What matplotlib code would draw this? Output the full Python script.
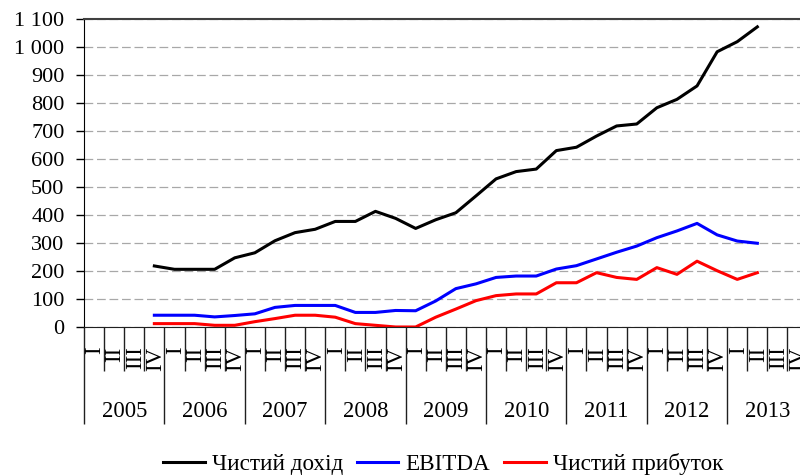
import numpy as np
import matplotlib
matplotlib.use("Agg")
import matplotlib.pyplot as plt
from matplotlib.ticker import FuncFormatter

plt.rcParams["font.family"] = ["Liberation Serif", "DejaVu Serif"]
plt.rcParams["font.size"] = 16

# Quarterly data, 2005 Q4 .. 2013 Q2
years = ["2005", "2006", "2007", "2008", "2009", "2010", "2011", "2012", "2013"]
quarters = ["I", "II", "III", "IV"]
first_quarter = 3  # data starts at 2005 Q4

net_revenue = [218, 206, 206, 206, 247, 265, 308, 337, 349, 377, 377, 413, 388,
               352, 383, 408, 468, 529, 555, 564, 630, 642, 682, 718, 725,
               783, 813, 861, 983, 1019, 1072]
ebitda = [42, 42, 42, 36, 41, 47, 70, 77, 77, 77, 52, 52, 59,
          58, 93, 137, 154, 177, 182, 182, 207, 219, 243, 267, 289,
          319, 343, 370, 329, 307, 299]
net_profit = [12, 12, 12, 6, 6, 19, 30, 42, 42, 35, 12, 6, 0,
              0, 35, 64, 94, 112, 118, 118, 158, 158, 194, 177, 170,
              212, 188, 235, 201, 170, 194]

n_cat = len(years) * len(quarters)
x = np.arange(len(net_revenue)) + first_quarter

fig = plt.figure(figsize=(8, 4.75), dpi=100)
ax = fig.add_axes([0.105, 0.3116, 0.9045, 0.6484])

ax.plot(x, net_revenue, color="black", lw=2.2, label="Чистий дохід")
ax.plot(x, ebitda, color="#0000ff", lw=2.2, label="EBITDA")
ax.plot(x, net_profit, color="#ff0000", lw=2.2, label="Чистий прибуток")

ax.set_xlim(-0.5, n_cat - 0.5)
ax.set_ylim(0, 1100)
ax.set_yticks(np.arange(0, 1101, 100))
ax.yaxis.set_major_formatter(FuncFormatter(lambda v, p: f"{int(v):,}".replace(",", " ")))
ax.tick_params(axis="y", direction="out", length=6, width=1, labelsize=16, pad=8)

# gridlines
ax.set_axisbelow(True)
ax.yaxis.grid(True, color="#a8a8a8", lw=0.9, linestyle=(0, (7, 3)))

# x axis: quarter and year separators
ax.set_xticks(np.arange(-0.5, n_cat, 4))
ax.set_xticks(np.arange(-0.5, n_cat, 1), minor=True)
ax.set_xticklabels([])
ax.tick_params(axis="x", which="major", direction="out", length=70, width=1, color="#202020")
ax.tick_params(axis="x", which="minor", direction="out", length=32, width=1, color="#202020")

trans = ax.get_xaxis_transform()
for i in range(n_cat):
    ax.text(i + 0.05, -0.063, quarters[i % 4], transform=trans, rotation=90,
            ha="center", va="top", fontsize=16.5, clip_on=False)
for j, yr in enumerate(years):
    ax.text(j * 4 + 1.5, -0.275, yr, transform=trans, ha="center", va="center",
            fontsize=16.3, clip_on=False)

ax.spines["right"].set_visible(False)
ax.spines["top"].set_color("#404040")
ax.spines["top"].set_linewidth(1.5)
ax.spines["left"].set_color("black")
ax.spines["bottom"].set_color("#202020")

fig.legend(loc="center", bbox_to_anchor=(443 / 800, 1 - 464 / 475), ncol=3,
           frameon=False, fontsize=16.7, handlelength=1.8, handletextpad=0.3,
           columnspacing=0.6)

fig.savefig("out.png", dpi=100)
